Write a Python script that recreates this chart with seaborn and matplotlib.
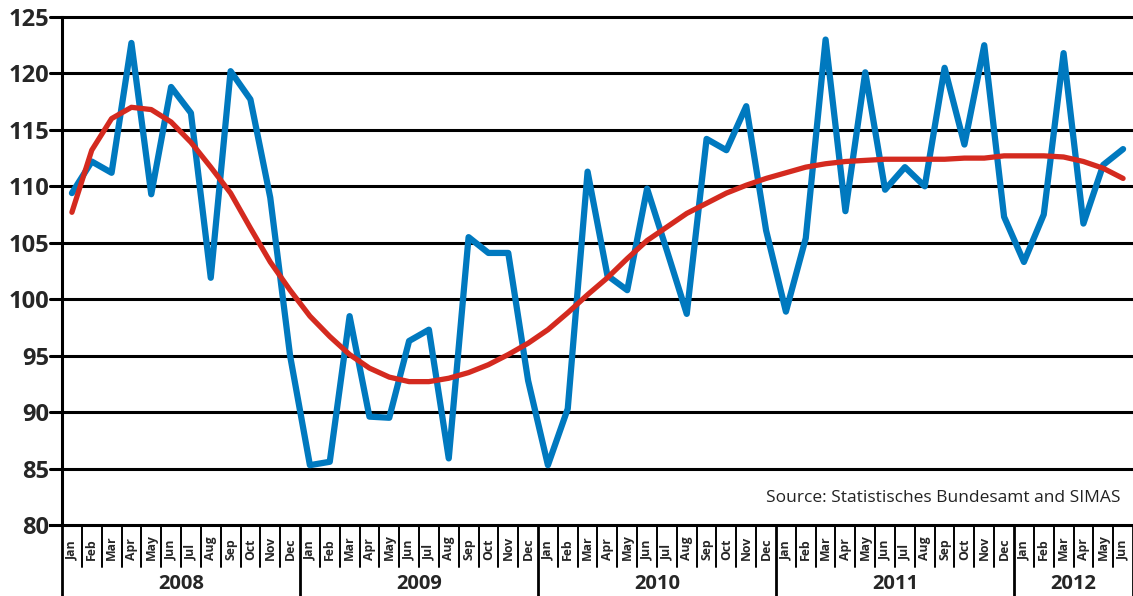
import numpy as np
import pandas as pd
import matplotlib.pyplot as plt
import matplotlib.transforms as mtransforms
import seaborn as sns

# monthly index values, Jan 2008 - Jun 2012
years = ['2008', '2009', '2010', '2011', '2012']
month_names = ['Jan', 'Feb', 'Mar', 'Apr', 'May', 'Jun',
               'Jul', 'Aug', 'Sep', 'Oct', 'Nov', 'Dec']
months_per_year = [12, 12, 12, 12, 6]

index_values = [
    109.4, 112.2, 111.2, 122.7, 109.3, 118.8, 116.5, 101.9, 120.2, 117.7, 109.0, 95.0,
    85.3, 85.6, 98.5, 89.6, 89.5, 96.3, 97.3, 85.9, 105.5, 104.1, 104.1, 92.8,
    85.3, 90.3, 111.3, 102.1, 100.8, 109.8, 104.3, 98.7, 114.2, 113.2, 117.1, 106.1,
    98.9, 105.4, 123.0, 107.8, 120.1, 109.7, 111.7, 110.0, 120.5, 113.7, 122.5, 107.3,
    103.3, 107.5, 121.8, 106.7, 111.9, 113.3,
]
trend_values = [
    107.7, 113.2, 116.0, 117.0, 116.8, 115.7, 113.9, 111.7, 109.4, 106.3, 103.3, 100.8,
    98.5, 96.7, 95.1, 93.9, 93.1, 92.7, 92.7, 93.0, 93.5, 94.2, 95.1, 96.1,
    97.3, 98.8, 100.4, 101.9, 103.6, 105.2, 106.4, 107.6, 108.5, 109.4, 110.1, 110.7,
    111.2, 111.7, 112.0, 112.2, 112.3, 112.4, 112.4, 112.4, 112.4, 112.5, 112.5, 112.7,
    112.7, 112.7, 112.6, 112.2, 111.6, 110.7,
]

labels = [m for n in months_per_year for m in month_names[:n]]
df = pd.DataFrame({'t': np.arange(len(index_values)),
                   'index': index_values, 'trend': trend_values})

sns.set_theme(style="white")
plt.rcParams['font.family'] = ['Open Sans', 'DejaVu Sans']

W, H = 1133, 596
fig = plt.figure(figsize=(W / 100, H / 100), dpi=100)
ax = fig.add_axes([62 / W, 1 - 525 / H, (W - 62) / W, (525 - 17) / H])

sns.lineplot(data=df, x='t', y='index', ax=ax, color='#0079bf', lw=4.5,
             solid_joinstyle='round', solid_capstyle='round', zorder=3)
sns.lineplot(data=df, x='t', y='trend', ax=ax, color='#d42a1f', lw=3.8,
             solid_capstyle='round', zorder=4)

n = len(index_values)
ax.set_xlim(-0.5, n - 0.5)
ax.set_ylim(80, 125)
ax.set_yticks(range(80, 126, 5))
ax.set_xticks([])
ax.set_xlabel('')
ax.set_ylabel('')
for v in range(85, 126, 5):
    ax.axhline(v, color='black', lw=2.2, zorder=2, clip_on=False,
               xmin=-12 / (W - 62), xmax=1)
ax.tick_params(axis='y', length=0, pad=9)
for lab in ax.get_yticklabels():
    lab.set_fontweight('bold')
    lab.set_fontsize(17)

for s in ['top', 'right']:
    ax.spines[s].set_visible(False)
ax.spines['left'].set_linewidth(2.2)
ax.spines['bottom'].set_linewidth(2.2)
ax.spines['left'].set_color('black')
ax.spines['bottom'].set_color('black')
ax.spines['bottom'].set_bounds(-0.5 - 12 / 19.85, n - 0.5)

# month / year label band under the axis
tr = mtransforms.blended_transform_factory(ax.transData, fig.transFigure)
y_axis = 1 - 525 / H
y_month = 1 - 567 / H
for i, m in enumerate(labels):
    ax.text(i, 1 - 560 / H, m, transform=tr, rotation=90, ha='center',
            va='bottom', fontsize=8.8, fontweight='bold')
bounds = np.cumsum([0] + months_per_year) - 0.5
for i in range(n + 1):
    x = i - 0.5
    bottom = 0 if x in bounds else y_month
    ax.plot([x, x], [y_axis, bottom], transform=tr, color='black',
            lw=1.4 if bottom else 2.0, clip_on=False)
for k, yr in enumerate(years):
    ax.text((bounds[k] + bounds[k + 1]) / 2, 1 - 584 / H, yr, transform=tr,
            ha='center', va='center', fontsize=14.5, fontweight='bold')

ax.text(n - 1.15, 82.4, 'Source: Statistisches Bundesamt and SIMAS',
        ha='right', va='center', fontsize=12.5, color='#222222')

fig.savefig('out.png', dpi=100)
